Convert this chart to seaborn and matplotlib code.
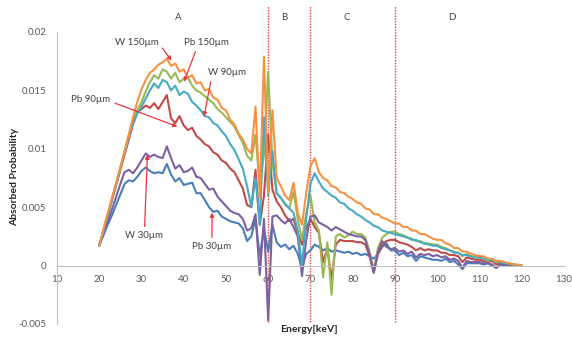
import matplotlib
matplotlib.use('Agg')
import matplotlib.pyplot as plt
import pandas as pd
import seaborn as sns

# Energy grid (keV)
energy = list(range(20, 121))

# Absorbed probability per detector
pb_30 = [
    .0017, .0026, .0035, .0043, .0052, .0061, .0070, .0073, .0072, .0076,
    .0081, .0084, .0081, .0079, .0080, .0079, .0087, .0078, .0072, .0075,
    .0069, .0070, .0071, .0062, .0062, .0056, .0050, .0046, .0047, .0042,
    .0040, .0038, .0037, .0036, .0032, .0021, .0025, .0040, .0008, .0032,
    .0012, .0035, .0020, .0016, .0018, .0014, .0017, .0010, -.0002, .0010,
    .0013, .0018, .0016, .0013, .0015, .0012, .0013, .0012, .0011, .0012,
    .0010, .0011, .0009, .0010, .0008, .0006, .0010, .0016, .0019, .0013,
    .0013, .0009, .0011, .0008, .0009, .0004, .0008, .0007, .0006, .0005,
    .0005, .0004, .0006, .0003, .0004, .0001, -.0003, .0002, .0002, .0002,
    .0002, .0001, .0002, .0000, -.0002, .0001, .0000, .0000, .0000, .0000,
    .0000,
]
pb_90 = [
    .0017, .0030, .0043, .0056, .0069, .0082, .0095, .0108, .0121, .0131,
    .0134, .0137, .0135, .0139, .0134, .0140, .0146, .0126, .0122, .0128,
    .0120, .0116, .0118, .0111, .0108, .0104, .0102, .0097, .0095, .0090,
    .0088, .0083, .0080, .0073, .0066, .0052, .0050, .0082, .0035, .0060,
    .0112, .0065, .0055, .0050, .0043, .0038, .0040, .0028, .0018, .0032,
    .0040, .0033, .0028, .0003, .0015, -.0012, .0018, .0022, .0021, .0021,
    .0021, .0020, .0020, .0018, .0008, -.0006, .0010, .0018, .0021, .0022,
    .0022, .0020, .0019, .0018, .0016, .0013, .0015, .0013, .0014, .0013,
    .0013, .0011, .0011, .0009, .0009, .0008, .0003, .0007, .0006, .0005,
    .0005, .0004, .0003, .0004, .0001, .0002, .0002, .0001, .0001, .0000,
    .0000,
]
pb_150 = [
    .0017, .0030, .0043, .0057, .0070, .0084, .0098, .0112, .0124, .0133,
    .0140, .0149, .0157, .0163, .0160, .0168, .0166, .0160, .0165, .0157,
    .0160, .0161, .0154, .0150, .0148, .0145, .0142, .0139, .0134, .0131,
    .0127, .0123, .0119, .0112, .0105, .0094, .0090, .0112, .0068, .0095,
    .0166, .0088, .0062, .0058, .0052, .0049, .0063, .0040, .0022, .0045,
    .0060, .0037, .0030, -.0010, .0020, -.0025, .0025, .0027, .0024, .0026,
    .0029, .0027, .0027, .0024, .0012, -.0004, .0015, .0024, .0027, .0029,
    .0029, .0027, .0026, .0024, .0023, .0021, .0021, .0019, .0019, .0018,
    .0018, .0016, .0015, .0013, .0012, .0011, .0008, .0010, .0008, .0007,
    .0007, .0006, .0004, .0005, .0003, .0003, .0002, .0001, .0001, .0000,
    .0000,
]
w_30 = [
    .0018, .0028, .0038, .0048, .0059, .0070, .0080, .0082, .0079, .0084,
    .0090, .0096, .0093, .0095, .0093, .0092, .0102, .0092, .0083, .0086,
    .0080, .0081, .0084, .0076, .0075, .0070, .0065, .0066, .0059, .0055,
    .0051, .0047, .0045, .0044, .0040, .0030, .0032, .0044, -.0008, .0040,
    -.0047, .0042, .0043, .0039, .0036, .0040, .0033, .0025, -.0009, .0022,
    .0042, .0043, .0037, .0035, .0033, .0030, .0033, .0031, .0029, .0027,
    .0026, .0025, .0025, .0022, .0010, -.0006, .0012, .0021, .0016, .0014,
    .0015, .0012, .0013, .0010, .0012, .0007, .0010, .0009, .0010, .0008,
    .0009, .0007, .0008, .0005, .0006, .0004, -.0002, .0004, .0003, .0003,
    .0003, .0002, .0002, .0001, -.0002, .0001, .0001, .0000, .0000, .0000,
    .0000,
]
w_90 = [
    .0017, .0030, .0043, .0056, .0069, .0083, .0097, .0110, .0122, .0130,
    .0136, .0143, .0150, .0156, .0152, .0159, .0157, .0150, .0154, .0146,
    .0149, .0147, .0140, .0137, .0133, .0128, .0127, .0122, .0120, .0115,
    .0111, .0104, .0099, .0091, .0083, .0068, .0050, .0075, .0035, .0127,
    .0060, .0098, .0062, .0058, .0053, .0049, .0045, .0030, .0000, .0040,
    .0070, .0079, .0072, .0066, .0063, .0060, .0058, .0054, .0053, .0049,
    .0047, .0044, .0042, .0039, .0037, .0034, .0033, .0030, .0029, .0028,
    .0027, .0026, .0025, .0024, .0022, .0022, .0020, .0019, .0018, .0017,
    .0017, .0015, .0014, .0013, .0011, .0011, .0009, .0009, .0008, .0007,
    .0007, .0006, .0005, .0005, .0004, .0003, .0002, .0002, .0001, .0000,
    .0000,
]
w_150 = [
    .0017, .0031, .0045, .0058, .0071, .0084, .0098, .0112, .0127, .0140,
    .0151, .0159, .0165, .0168, .0172, .0174, .0177, .0171, .0173, .0166,
    .0168, .0161, .0163, .0156, .0157, .0150, .0151, .0144, .0142, .0135,
    .0133, .0125, .0121, .0113, .0108, .0100, .0096, .0136, .0058, .0179,
    .0062, .0133, .0075, .0068, .0060, .0056, .0071, .0045, .0035, .0062,
    .0085, .0092, .0080, .0075, .0073, .0068, .0067, .0063, .0062, .0059,
    .0057, .0054, .0053, .0049, .0048, .0044, .0044, .0041, .0040, .0038,
    .0036, .0036, .0033, .0033, .0030, .0030, .0027, .0027, .0025, .0023,
    .0022, .0022, .0019, .0018, .0015, .0015, .0012, .0012, .0010, .0009,
    .0008, .0008, .0006, .0006, .0004, .0004, .0003, .0002, .0001, .0001,
    .0000,
]

series_names = ['Pb 30µm', 'Pb 90µm', 'Pb 150µm', 'W 30µm', 'W 90µm', 'W 150µm']
colors = ['#4A7EBB', '#BE4B48', '#98B954', '#7D60A0', '#46AAC5', '#F69240']

# Region boundaries and labels
region_bounds = [60, 70, 90]
region_names = ['A', 'B', 'C', 'D']
region_label_x = [38.7, 63.9, 78.5, 103.6]

df = pd.DataFrame({'Energy': energy})
for name, vals in zip(series_names, [pb_30, pb_90, pb_150, w_30, w_90, w_150]):
    df[name] = vals
long_df = df.melt(id_vars='Energy', var_name='Series', value_name='Absorbed Probability')

sns.set_style('white')
plt.rcParams['font.family'] = ['Lato', 'DejaVu Sans']

fig = plt.figure(figsize=(5.72, 3.41), dpi=100)
ax = fig.add_axes([0.0997, 0.0499, 0.886, 0.8563])

sns.lineplot(data=long_df, x='Energy', y='Absorbed Probability', hue='Series',
             hue_order=series_names, palette=colors, estimator=None,
             linewidth=1.5, legend=False, ax=ax)

ax.set_xlim(10, 130)
ax.set_ylim(-0.005, 0.02)
ax.set_xticks(range(10, 131, 10))
ax.set_yticks([-0.005, 0, 0.005, 0.01, 0.015, 0.02])
ax.set_yticklabels(['-0.005', '0', '0.005', '0.01', '0.015', '0.02'])

for side in ['top', 'right']:
    ax.spines[side].set_visible(False)
ax.spines['bottom'].set_position(('data', 0))
ax.spines['bottom'].set_color('#BFBFBF')
ax.spines['left'].set_color('#BFBFBF')
ax.tick_params(axis='both', colors='#BFBFBF', labelcolor='#595959', labelsize=7,
               length=2.5, width=0.8)
ax.tick_params(axis='x', pad=4.5)
ax.tick_params(axis='y', pad=5)

ax.set_xlabel('Energy[keV]', fontsize=7.5, fontweight='bold', color='#262626')
ax.xaxis.set_label_coords(0.498, -0.003)
ax.set_ylabel('Absorbed Probability', fontsize=7.5, fontweight='bold', color='#262626')
ax.yaxis.set_label_coords(-0.074, 0.503)

# Region separators and labels
for xb in region_bounds:
    ax.plot([xb, xb], [-0.0048, 0.0222], color='#E8383D', lw=1.0,
            ls=(0, (1, 1)), clip_on=False, zorder=1)
for name, xl in zip(region_names, region_label_x):
    ax.text(xl, 0.0212, name, ha='center', va='center', fontsize=7,
            color='#404040', clip_on=False)

# Series annotations
notes = [
    ('W 150µm', (37.1, 0.01755), (28.8, 0.0191), (1.0, 0.5)),
    ('Pb 150µm', (40.1, 0.01575), (45.3, 0.0191), (0.3, 0.0)),
    ('W 90µm', (44.8, 0.01276), (50.2, 0.01652), (0.1, 0.0)),
    ('Pb 90µm', (38.5, 0.0119), (18.0, 0.01421), (1.0, 0.3)),
    ('W 30µm', (31.4, 0.0095), (30.7, 0.00257), (0.5, 1.0)),
    ('Pb 30µm', (46.7, 0.00454), (46.7, 0.00163), (0.5, 1.0)),
]
for text, tip, pos, rel in notes:
    ax.annotate(text, xy=tip, xytext=pos, ha='center', va='center',
                fontsize=7, color='#404040',
                arrowprops=dict(arrowstyle='-|>', color='#E8383D', lw=0.9,
                                mutation_scale=6, shrinkA=1, shrinkB=0,
                                relpos=rel))

fig.savefig('out.png', dpi=100)
